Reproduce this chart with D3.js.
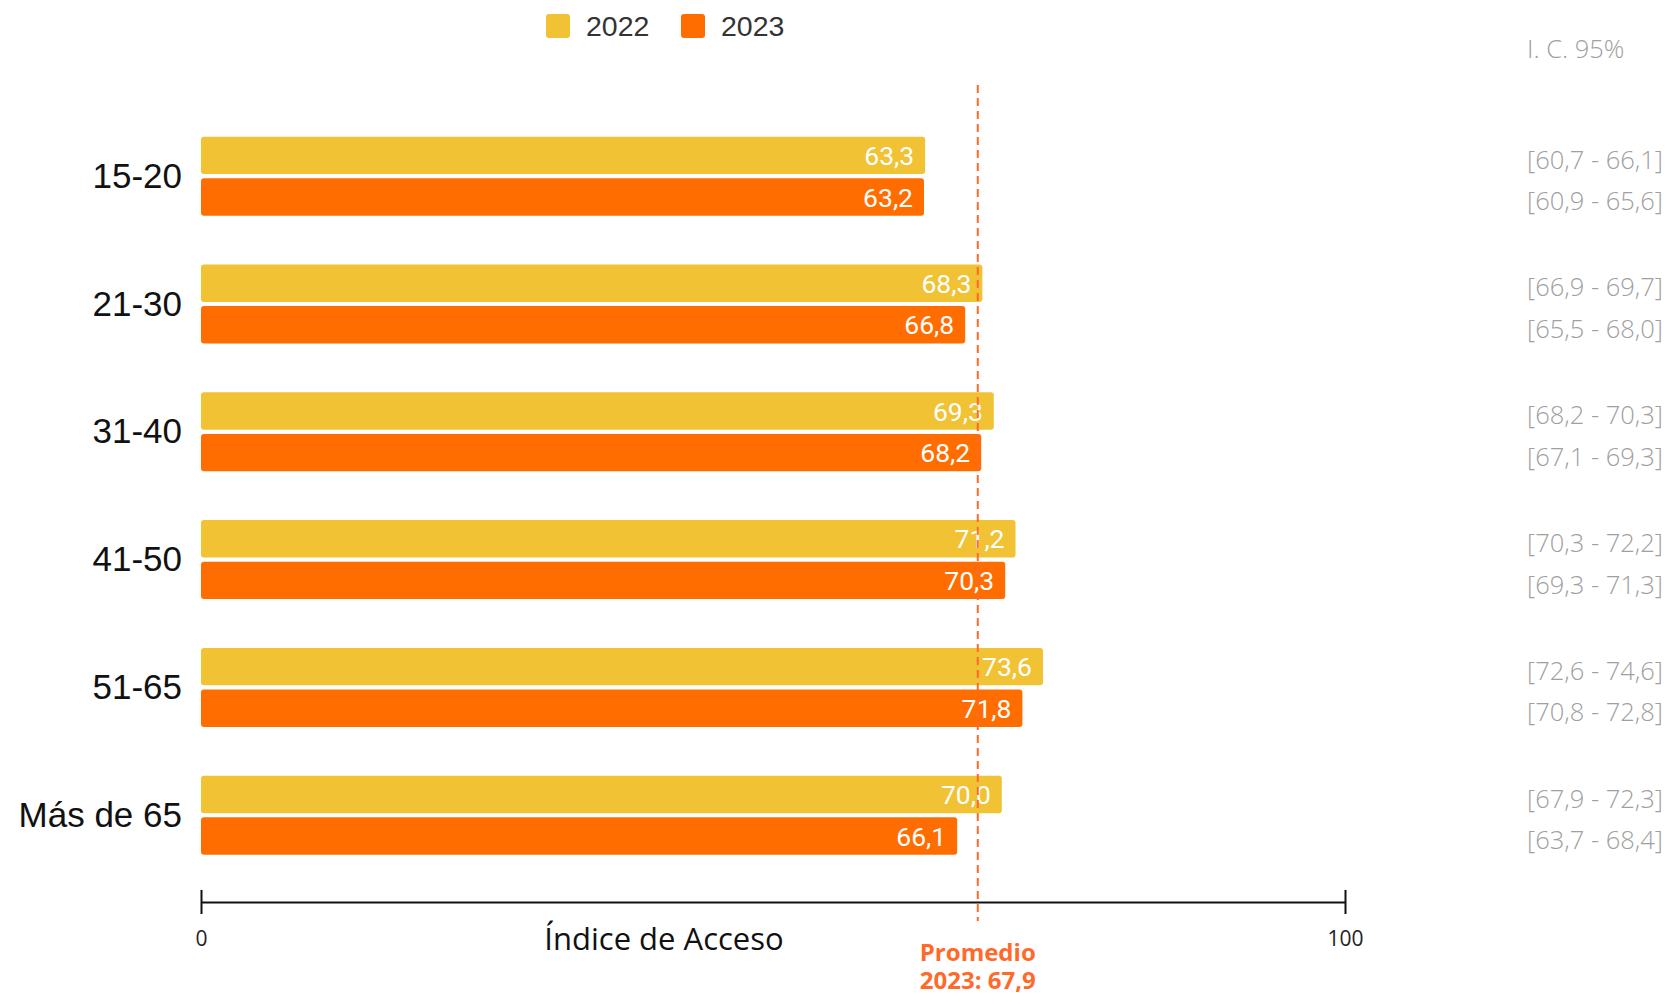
<!DOCTYPE html>
<html>
<head>
<meta charset="utf-8">
<script src="https://cdn.jsdelivr.net/npm/d3@7"></script>
<style>
  html, body { margin: 0; padding: 0; background: #ffffff; }
  svg { display: block; }
</style>
</head>
<body>
<svg id="chart" width="1675" height="994"></svg>
<script>
const categories = ["15-20", "21-30", "31-40", "41-50", "51-65", "Más de 65"];
const seriesNames = ["2022", "2023"];
const values2022 = [63.3, 68.3, 69.3, 71.2, 73.6, 70.0];
const values2023 = [63.2, 66.8, 68.2, 70.3, 71.8, 66.1];
const ci2022 = ["[60,7 - 66,1]", "[66,9 - 69,7]", "[68,2 - 70,3]", "[70,3 - 72,2]", "[72,6 - 74,6]", "[67,9 - 72,3]"];
const ci2023 = ["[60,9 - 65,6]", "[65,5 - 68,0]", "[67,1 - 69,3]", "[69,3 - 71,3]", "[70,8 - 72,8]", "[63,7 - 68,4]"];
const xTicks = [0, 100];
const average2023 = 67.9;
const averageLabel = ["Promedio", "2023: 67,9"];
const ciTitle = "I. C. 95%";
const axisTitle = "Índice de Acceso";

const colors = { "2022": "#F0C234", "2023": "#FF6D00" };
const fmt = v => v.toFixed(1).replace(".", ",");

const svg = d3.select("#chart");

const x = d3.scaleLinear().domain([0, 100]).range([201, 1345]);
const y0 = d3.scaleBand().domain(categories).range([136.7, 854.7]).paddingInner(0.382).paddingOuter(0);
const y1 = d3.scaleBand().domain(seriesNames).range([0, y0.bandwidth()]).paddingInner(0.1).paddingOuter(0);

const rows = categories.map((c, i) => ({
  cat: c,
  items: [
    { s: "2022", v: values2022[i], ci: ci2022[i] },
    { s: "2023", v: values2023[i], ci: ci2023[i] }
  ]
}));

// Legend
const legend = svg.append("g");
const legendPos = [{ s: "2022", x: 546 }, { s: "2023", x: 681 }];
legendPos.forEach(d => {
  legend.append("rect").attr("x", d.x).attr("y", 14).attr("width", 24).attr("height", 24)
    .attr("rx", 3).attr("fill", colors[d.s]);
  legend.append("text").attr("x", d.x + 40).attr("y", 26).attr("dy", "0.36em")
    .attr("font-family", "Liberation Sans, Arial, sans-serif").attr("font-size", 28.5)
    .attr("fill", "#333").text(d.s);
});

// Bars
const groups = svg.append("g").selectAll("g").data(rows).join("g")
  .attr("transform", d => `translate(0,${y0(d.cat)})`);

groups.selectAll("rect").data(d => d.items).join("rect")
  .attr("x", x(0))
  .attr("y", d => y1(d.s))
  .attr("width", d => x(d.v) - x(0))
  .attr("height", y1.bandwidth())
  .attr("rx", 3)
  .attr("fill", d => colors[d.s]);

// Category labels
groups.append("text")
  .attr("x", 182)
  .attr("y", y0.bandwidth() / 2 - 1)
  .attr("dy", "0.36em")
  .attr("text-anchor", "end")
  .attr("font-family", "Liberation Sans, Arial, sans-serif")
  .attr("font-size", 35)
  .attr("fill", "#111")
  .text(d => d.cat);

// Average line
svg.append("line")
  .attr("x1", x(average2023)).attr("x2", x(average2023))
  .attr("y1", 85).attr("y2", 921)
  .attr("stroke", "#FF6A2A").attr("stroke-width", 2)
  .attr("stroke-dasharray", "8,5");

// Value labels
groups.selectAll("text.val").data(d => d.items).join("text")
  .attr("class", "val")
  .attr("x", d => x(d.v) - 11)
  .attr("y", d => y1(d.s) + y1.bandwidth() / 2)
  .attr("dy", "0.36em")
  .attr("text-anchor", "end")
  .attr("font-family", "Roboto, sans-serif")
  .attr("font-size", 26.5)
  .attr("fill", "#ffffff")
  .text(d => fmt(d.v));

// CI labels
groups.selectAll("text.ci").data(d => d.items).join("text")
  .attr("class", "ci")
  .attr("x", 1527)
  .attr("y", d => y1(d.s) + y1.bandwidth() / 2 + 4)
  .attr("dy", "0.36em")
  .attr("font-family", "'Open Sans', sans-serif")
  .attr("font-weight", 300)
  .attr("font-size", 25.5)
  .attr("fill", "#a0a0a0")
  .text(d => d.ci);

svg.append("text")
  .attr("x", 1527).attr("y", 49).attr("dy", "0.36em")
  .attr("font-family", "'Open Sans', sans-serif")
  .attr("font-weight", 300)
  .attr("font-size", 25.5)
  .attr("fill", "#a0a0a0")
  .text(ciTitle);

// X axis
const axisY = 902;
const axis = d3.axisBottom(x).tickValues(xTicks).tickSize(0).tickPadding(0).tickFormat(d3.format("d"));
const ax = svg.append("g").attr("transform", `translate(0,${axisY})`).call(axis);
ax.select(".domain").attr("stroke", "#111").attr("stroke-width", 2);
ax.selectAll(".tick line").remove();
ax.selectAll(".tick").append("line")
  .attr("y1", -12).attr("y2", 12).attr("stroke", "#111").attr("stroke-width", 2);
ax.selectAll(".tick text")
  .attr("y", 36).attr("dy", "0.36em")
  .attr("font-family", "'Open Sans', sans-serif")
  .attr("font-size", 21)
  .attr("fill", "#222");

svg.append("text")
  .attr("x", 664).attr("y", 939).attr("dy", "0.36em")
  .attr("text-anchor", "middle")
  .attr("font-family", "'Open Sans', sans-serif")
  .attr("font-size", 31)
  .attr("fill", "#111")
  .text(axisTitle);

// Average label
svg.append("g").selectAll("text").data(averageLabel).join("text")
  .attr("x", x(average2023))
  .attr("y", (d, i) => 952 + i * 28)
  .attr("dy", "0.36em")
  .attr("text-anchor", "middle")
  .attr("font-family", "'Open Sans', sans-serif")
  .attr("font-weight", 700)
  .attr("font-size", 24)
  .attr("fill", "#FF6A2A")
  .text(d => d);
</script>
</body>
</html>
